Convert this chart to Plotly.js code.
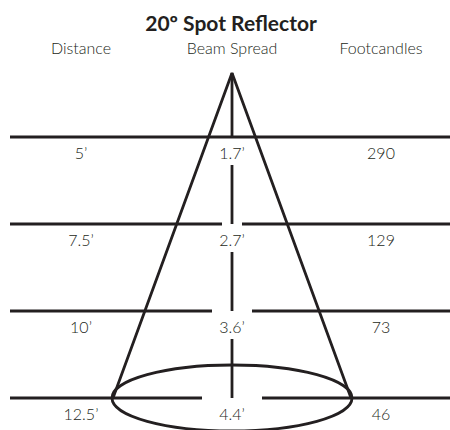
<!DOCTYPE html>
<html>
<head>
<meta charset="utf-8">
<script src="https://cdn.plot.ly/plotly-3.0.1.min.js"></script>
<style>html,body{margin:0;padding:0;background:#fff;}#chart{width:450px;height:430px;}</style>
</head>
<body>
<div id="chart"></div>
<script>
// ---- data ----
const chartTitle = "20º Spot Reflector";
const columnHeaders = ["Distance", "Beam Spread", "Footcandles"];
const distances = ["5’", "7.5’", "10’", "12.5’"];
const beamSpread = ["1.7’", "2.7’", "3.6’", "4.4’"];
const footcandles = ["290", "129", "73", "46"];

// ---- layout geometry (pixel-like axis units) ----
const W = 450, H = 430;
const ROW_Y0 = 137, ROW_STEP = 87;
const COL_X = [81, 232, 381];
const CENTER = 232;
const APEX_Y = 73;
const LABEL_DY = 18;
const SEG_DY = 28;
const GAP_STEP = 10;
const LINE_L = 10, LINE_R = 450;
const HEADER_Y = 50;
const BASE_HALF = 119;
const ELL_RX = 120, ELL_RY = 33;
const INK = "#231f20";
const TEXT = "#231f20";
const FONT = "Lato, 'Open Sans', sans-serif";

const n = distances.length;
const rowY = i => ROW_Y0 + ROW_STEP * i;

// horizontal lines
const hx = [], hy = [];
for (let i = 0; i < n; i++) {
  const g = GAP_STEP * i;
  if (g === 0) {
    hx.push(LINE_L, LINE_R, null); hy.push(rowY(i), rowY(i), null);
  } else {
    hx.push(LINE_L, CENTER - g, null, CENTER + g, LINE_R, null);
    hy.push(rowY(i), rowY(i), null, rowY(i), rowY(i), null);
  }
}
// vertical center segments
const vx = [], vy = [];
vx.push(CENTER, CENTER, null); vy.push(APEX_Y, rowY(0), null);
for (let i = 1; i < n; i++) {
  vx.push(CENTER, CENTER, null);
  vy.push(rowY(i - 1) + SEG_DY, rowY(i), null);
}
const baseY = rowY(n - 1);

const lineStyle = {color: INK, width: 2.8};
const textFont = {family: FONT, size: 16, color: TEXT, weight: 300};
const traces = [
  {type: "scatter", mode: "lines", x: hx, y: hy, line: lineStyle, hoverinfo: "skip", connectgaps: false},
  {type: "scatter", mode: "lines", x: vx, y: vy, line: lineStyle, hoverinfo: "skip", connectgaps: false},
  {type: "scatter", mode: "lines", x: [CENTER - BASE_HALF, CENTER, CENTER + BASE_HALF],
   y: [baseY, APEX_Y, baseY], line: lineStyle, hoverinfo: "skip"},
  {type: "scatter", mode: "text", x: COL_X, y: columnHeaders.map(() => HEADER_Y),
   text: columnHeaders, textposition: "middle center",
   textfont: textFont, hoverinfo: "skip"}
];
[distances, beamSpread, footcandles].forEach((col, c) => {
  traces.push({type: "scatter", mode: "text",
    x: col.map(() => COL_X[c]), y: col.map((_, i) => rowY(i) + LABEL_DY),
    text: col, textposition: "middle center",
    textfont: textFont, hoverinfo: "skip"});
});

const layout = {
  width: W, height: H,
  margin: {l: 0, r: 0, t: 0, b: 0},
  paper_bgcolor: "#fff", plot_bgcolor: "#fff",
  showlegend: false,
  title: {text: "<b>" + chartTitle + "</b>", x: 231 / W, xanchor: "center",
          y: 1 - 24 / H, yanchor: "middle", yref: "container",
          font: {family: FONT, size: 21, color: INK}},
  xaxis: {range: [0, W], visible: false, fixedrange: true},
  yaxis: {range: [H, 0], visible: false, fixedrange: true},
  shapes: [{type: "circle", xref: "x", yref: "y",
            x0: CENTER - ELL_RX, x1: CENTER + ELL_RX,
            y0: baseY - ELL_RY, y1: baseY + ELL_RY,
            line: lineStyle, fillcolor: "rgba(0,0,0,0)"}]
};
Plotly.newPlot("chart", traces, layout, {displayModeBar: false, staticPlot: true});
</script>
</body>
</html>
